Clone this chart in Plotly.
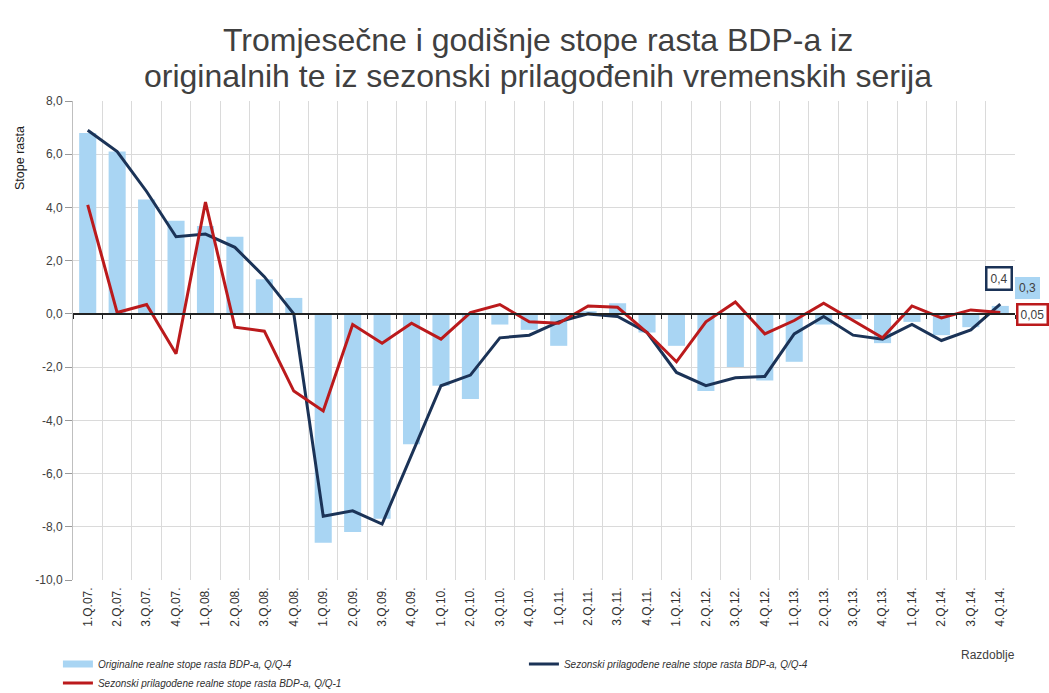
import plotly.graph_objects as go

quarters = ["1.Q.07.", "2.Q.07.", "3.Q.07.", "4.Q.07.",
            "1.Q.08.", "2.Q.08.", "3.Q.08.", "4.Q.08.",
            "1.Q.09.", "2.Q.09.", "3.Q.09.", "4.Q.09.",
            "1.Q.10.", "2.Q.10.", "3.Q.10.", "4.Q.10.",
            "1.Q.11.", "2.Q.11.", "3.Q.11.", "4.Q.11.",
            "1.Q.12.", "2.Q.12.", "3.Q.12.", "4.Q.12.",
            "1.Q.13.", "2.Q.13.", "3.Q.13.", "4.Q.13.",
            "1.Q.14.", "2.Q.14.", "3.Q.14.", "4.Q.14."]

orig_yoy = [6.8, 6.1, 4.3, 3.5, 3.3, 2.9, 1.3, 0.6,
            -8.6, -8.2, -7.7, -4.9, -2.7, -3.2, -0.4, -0.6,
            -1.2, 0.1, 0.4, -0.7, -1.2, -2.9, -2.0, -2.5,
            -1.8, -0.4, -0.2, -1.1, -0.3, -0.8, -0.5, 0.3]

sa_yoy = [6.9, 6.1, 4.6, 2.9, 3.0, 2.5, 1.4, 0.0,
          -7.6, -7.4, -7.9, -5.3, -2.7, -2.3, -0.9, -0.8,
          -0.3, 0.0, -0.1, -0.7, -2.2, -2.7, -2.4, -2.35,
          -0.75, -0.1, -0.8, -0.95, -0.4, -1.0, -0.6, 0.37]

sa_qoq = [4.1, 0.05, 0.35, -1.5, 4.2, -0.5, -0.65, -2.9,
          -3.65, -0.4, -1.1, -0.35, -0.95, 0.05, 0.35, -0.3,
          -0.35, 0.3, 0.25, -0.7, -1.8, -0.3, 0.45, -0.75,
          -0.25, 0.4, -0.25, -0.9, 0.3, -0.15, 0.15, 0.05]

y_tick_vals = [8, 6, 4, 2, 0, -2, -4, -6, -8, -10]
y_tick_text = ["8,0", "6,0", "4,0", "2,0", "0,0", "-2,0", "-4,0", "-6,0", "-8,0", "-10,0"]

names = ["Originalne realne stope rasta BDP-a, Q/Q-4",
         "Sezonski prilagođene realne stope rasta BDP-a, Q/Q-4",
         "Sezonski prilagođene realne stope rasta BDP-a, Q/Q-1"]

title_lines = ["Tromjesečne i godišnje stope rasta BDP-a iz",
               "originalnih te iz sezonski prilagođenih vremenskih serija"]

BAR_C = "#A9D5F3"
NAVY = "#1B3357"
RED = "#BB1A1C"
TXT = "#404040"
GRID = "#DADADA"
FONT = "Liberation Sans, Arial"

fig = go.Figure()
fig.add_trace(go.Bar(x=quarters, y=orig_yoy, name=names[0], marker_color=BAR_C,
                     marker_line_width=0, showlegend=False, legendgroup="orig"))
# legend swatch for the bars (wide flat rectangle like the reference)
fig.add_trace(go.Scatter(x=[None], y=[None], name=names[0], mode="lines",
                         line=dict(color=BAR_C, width=7), legendgroup="orig"))
fig.add_trace(go.Scatter(x=quarters, y=sa_yoy, name=names[1], mode="lines",
                         line=dict(color=NAVY, width=3)))
fig.add_trace(go.Scatter(x=quarters, y=sa_qoq, name=names[2], mode="lines",
                         line=dict(color=RED, width=3)))
# helper trace for the zero-level category axis
fig.add_trace(go.Scatter(x=quarters, y=[None] * len(quarters), xaxis="x2",
                         showlegend=False, hoverinfo="skip"))

def fmt(v, d):
    return f"{v:.{d}f}".replace(".", ",")

last = quarters[-1]
annots = [
    dict(x=last, y=sa_yoy[-1], text=fmt(sa_yoy[-1], 1), xshift=-1, yshift=26,
         bordercolor=NAVY, borderwidth=2.5, bgcolor="white", borderpad=3),
    dict(x=last, y=orig_yoy[-1], text=fmt(orig_yoy[-1], 1), xshift=27, yshift=18,
         bordercolor=BAR_C, borderwidth=1, bgcolor=BAR_C, borderpad=3),
    dict(x=last, y=sa_qoq[-1], text=fmt(sa_qoq[-1], 2), xshift=32, yshift=-2,
         bordercolor=RED, borderwidth=2.5, bgcolor="white", borderpad=2),
]
for a in annots:
    a.update(xref="x", yref="y", showarrow=False,
             font=dict(family=FONT, size=12, color=TXT))

def px_x(p):
    return (p - 73) / 942

def px_y(p):
    return (580 - p) / 479

annots.append(dict(text="Stope rasta", xref="paper", yref="paper",
                   x=px_x(20), y=px_y(158), textangle=-90,
                   showarrow=False, xanchor="center", yanchor="middle",
                   font=dict(family=FONT, size=12.5, color="#202020")))
annots.append(dict(text="Razdoblje", xref="paper", yref="paper",
                   x=px_x(988), y=px_y(655),
                   showarrow=False, xanchor="center", yanchor="middle",
                   font=dict(family=FONT, size=12, color=TXT)))
for line, yc in zip(title_lines, [40, 76]):
    annots.append(dict(text=line, xref="paper", yref="paper",
                       x=px_x(538), y=px_y(yc),
                       showarrow=False, xanchor="center", yanchor="middle",
                       font=dict(family=FONT, size=32, color=TXT)))

fig.update_layout(
    width=1049, height=693,
    margin=dict(l=73, r=34, t=101, b=113, autoexpand=False),
    paper_bgcolor="white", plot_bgcolor="white",
    separators=",.",
    bargap=0.42,
    showlegend=True,
    legend=dict(orientation="h", x=-0.016, xanchor="left", y=-0.145, yanchor="top",
                entrywidth=421, entrywidthmode="pixels",
                font=dict(family="Liberation Sans Narrow, Liberation Sans, Arial",
                          size=10, color="#303030", style="italic"),
                itemwidth=30, tracegroupgap=0, bgcolor="rgba(0,0,0,0)"),
    annotations=annots,
    xaxis=dict(type="category", categoryarray=quarters, categoryorder="array",
               range=[-0.5, len(quarters) - 0.5],
               tickson="boundaries", showgrid=True, gridcolor=GRID, gridwidth=1,
               ticks="", showline=False, tickangle=-90, ticklabelstandoff=4,
               tickfont=dict(family=FONT, size=12, color="#303030"),
               zeroline=False),
    xaxis2=dict(type="category", categoryarray=quarters, categoryorder="array",
                matches="x", overlaying="x", anchor="free",
                position=10 / 18, side="bottom",
                tickson="boundaries", ticks="outside", ticklen=4, tickcolor="#222",
                showline=True, linecolor="#222", linewidth=1.5,
                showticklabels=False, showgrid=False, zeroline=False),
    yaxis=dict(range=[-10, 8], tickvals=y_tick_vals, ticktext=y_tick_text,
               showgrid=True, gridcolor=GRID, gridwidth=1,
               zeroline=False, showline=True, linecolor="#BFBFBF",
               ticks="outside", ticklen=7, tickcolor="#999",
               tickfont=dict(family=FONT, size=12, color=TXT)),
)

fig.write_html("out.html", config={"displayModeBar": False},
               post_script="document.body.style.margin='0';")
